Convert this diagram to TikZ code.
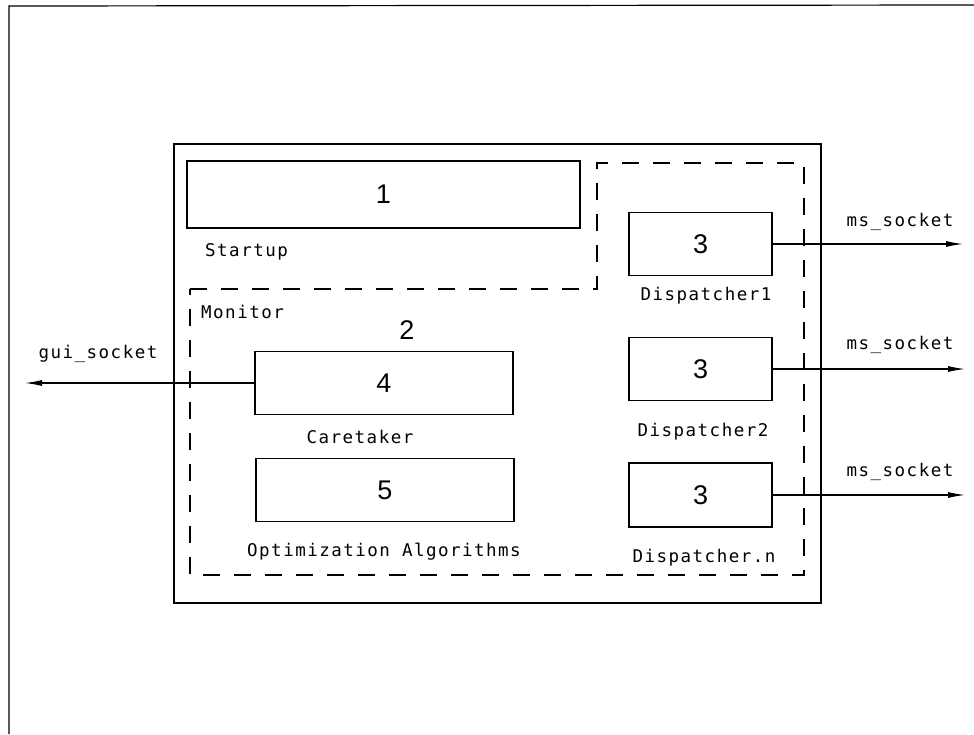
\documentclass[tikz,border=0pt]{standalone}
\usepackage{fontspec}
\usetikzlibrary{arrows.meta}
\newfontfamily\lblfont[LetterSpace=8.5]{DejaVu Sans Mono}
\newfontfamily\numfont{Liberation Sans}
\begin{document}
\begin{tikzpicture}[x=1pt,y=-1pt,
  box/.style={draw,line width=1.1pt,minimum width=#1,minimum height=63pt,inner sep=0pt,font=\numfont\fontsize{27}{27}\selectfont},
  lbl/.style={inner sep=0pt,font=\lblfont\fontsize{17.5}{18}\selectfont},
  num/.style={inner sep=0pt,font=\numfont\fontsize{27}{27}\selectfont},
  dashbox/.style={draw,line width=1.1pt,dash pattern=on 17pt off 14pt},
  sock/.style={line width=1.1pt,-{Latex[length=17pt,width=6pt]}}]
\useasboundingbox (0,0) rectangle (974,734);
% page frame
\draw[line width=1.2pt] (9,734) -- (9,6) -- (974,5);
% outer solid box
\draw[line width=1.3pt] (174,144) rectangle (821,603);
% monitor dashed region
\draw[dashbox] (190,289) -- (597,289) -- (597,163) -- (804,163) -- (804,575) -- (190,575) -- cycle;
% startup
\node[box=393pt,minimum height=67pt] (b1) at (383.5,194.5) {1};
\node[lbl,anchor=west] (startup) at (205,252) {Startup};
% monitor
\node[lbl,anchor=west] (monitor) at (201,312) {Monitor};
\node[num] (n2) at (407,330) {2};
\node[box=258pt] (b4) at (384,383) {4};
\node[lbl] (caretaker) at (360,437) {Caretaker};
\node[box=258pt] (b5) at (385,490) {5};
\node[lbl] (optim) at (384,552) {Optimization Algorithms};
% dispatchers
\node[box=143pt] (d1) at (700.5,244) {3};
\node[lbl] (d1l) at (706,296) {Dispatcher1};
\node[box=143pt] (d2) at (700.5,369) {3};
\node[lbl] (d2l) at (703,432) {Dispatcher2};
\node[box=143pt,minimum height=64pt] (d3) at (700.5,495) {3};
\node[lbl] (d3l) at (704,558) {Dispatcher.n};
% sockets
\coordinate (g) at (25,383);
\coordinate (e1) at (963,244);
\coordinate (e2) at (965,369);
\coordinate (e3) at (965,495);
\draw[sock] (b4.west) -- (g);
\draw[sock] (d1.east) -- (e1);
\draw[sock] (d2.east) -- (e2);
\draw[sock] (d3.east) -- (e3);
\node[lbl] (gs) at (98,354) {gui\_socket};
\node[lbl] (m1) at (900,222) {ms\_socket};
\node[lbl] (m2) at (900,345) {ms\_socket};
\node[lbl] (m3) at (900,472) {ms\_socket};
\end{tikzpicture}
\end{document}
